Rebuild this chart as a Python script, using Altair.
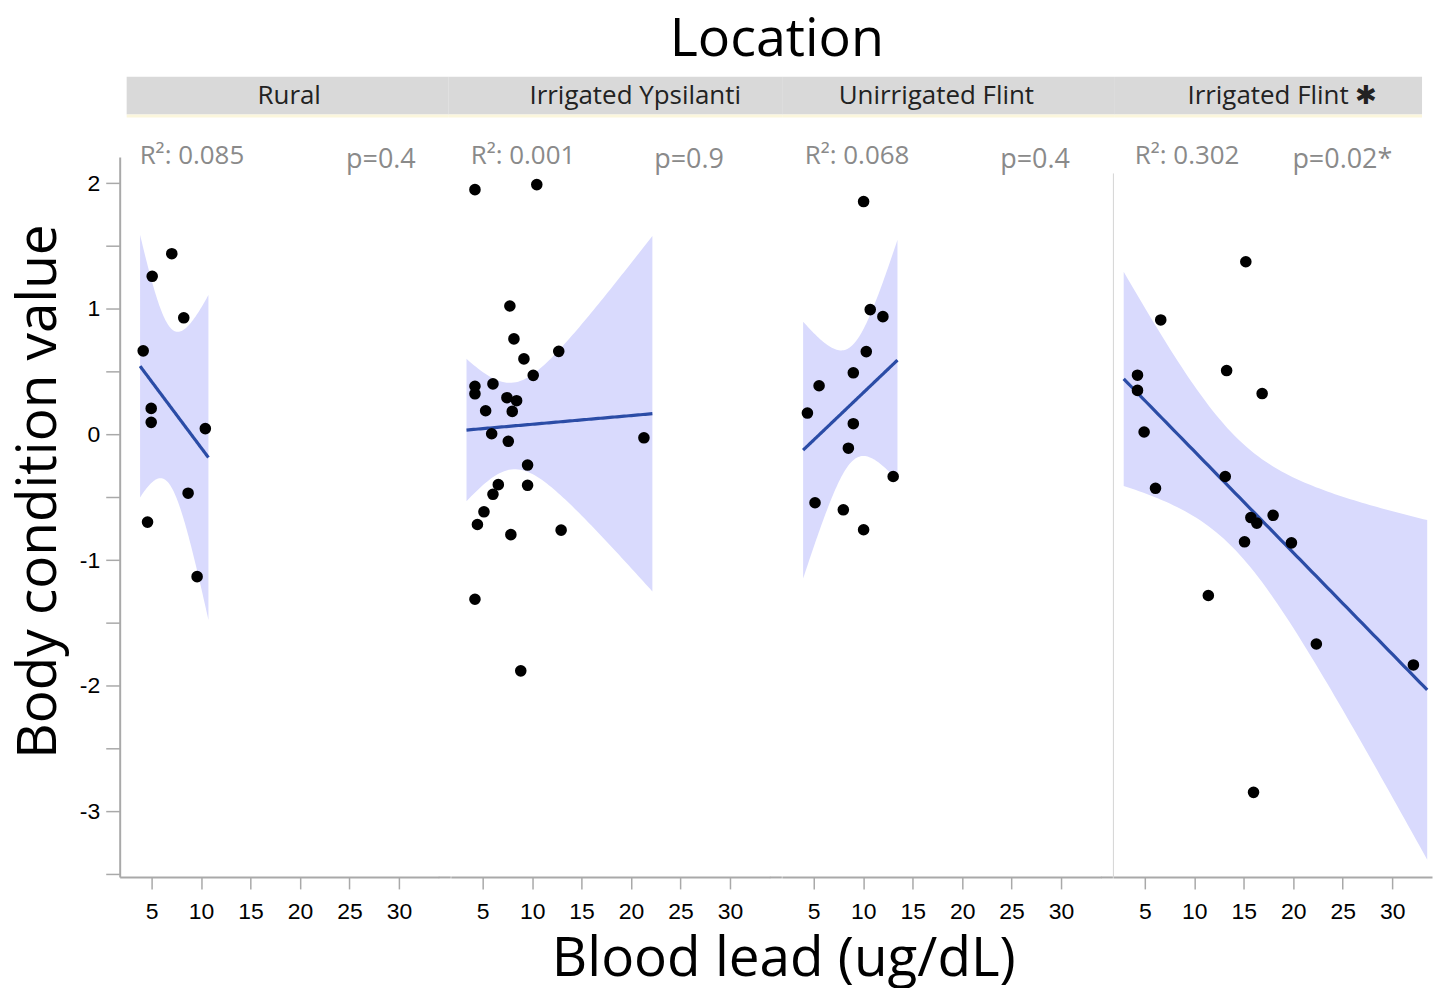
import math
import numpy as np
import pandas as pd
import altair as alt

# ---------------- data ----------------
LOCATIONS = ["Rural", "Irrigated Ypsilanti", "Unirrigated Flint", "Irrigated Flint"]
HEADER_LABELS = ["Rural", "Irrigated Ypsilanti", "Unirrigated Flint", "Irrigated Flint \u2731"]
R2_LABELS = ["R\u00b2: 0.085", "R\u00b2: 0.001", "R\u00b2: 0.068", "R\u00b2: 0.302"]
P_LABELS = ["p=0.4", "p=0.9", "p=0.4", "p=0.02*"]
X_TITLE = "Blood lead (ug/dL)"
Y_TITLE = "Body condition value"
FACET_TITLE = "Location"

RURAL_X = [7.04, 5.06, 8.25, 4.15, 4.96, 4.96, 10.43, 8.69, 4.59, 9.60]
RURAL_Y = [1.44, 1.26, 0.93, 0.667, 0.209, 0.098, 0.048, -0.466, -0.696, -1.13]

IY_X = [4.22, 10.47, 7.75, 8.16, 12.69, 9.17, 10.11, 4.22, 4.22, 6.04, 7.45, 8.43,
        5.30, 7.99, 5.91, 7.59, 21.3, 9.54, 6.58, 9.54, 6.04, 5.13, 4.47, 7.85,
        12.93, 4.22, 8.85]
IY_Y = [1.95, 1.99, 1.024, 0.762, 0.663, 0.603, 0.472, 0.385, 0.325, 0.404, 0.294,
        0.27, 0.19, 0.185, 0.007, -0.053, -0.025, -0.242, -0.398, -0.403, -0.475,
        -0.614, -0.715, -0.796, -0.76, -1.31, -1.88]

UF_X = [10.04, 10.71, 11.99, 10.31, 9.0, 5.54, 4.36, 9.0, 8.5, 13.03, 5.13, 7.99, 10.04]
UF_Y = [1.855, 0.995, 0.939, 0.661, 0.492, 0.389, 0.172, 0.087, -0.108, -0.333,
        -0.542, -0.598, -0.757]

IF_X = [15.21, 6.61, 4.26, 4.26, 13.27, 16.86, 4.93, 6.08, 13.13, 15.72, 16.32,
        17.97, 15.08, 19.82, 11.42, 22.34, 32.15, 15.99]
IF_Y = [1.376, 0.913, 0.473, 0.352, 0.51, 0.327, 0.021, -0.427, -0.333, -0.66,
        -0.704, -0.642, -0.853, -0.861, -1.28, -1.666, -1.833, -2.847]

SERIES_X = [RURAL_X, IY_X, UF_X, IF_X]
SERIES_Y = [RURAL_Y, IY_Y, UF_Y, IF_Y]

X_TICKS = [5, 10, 15, 20, 25, 30]
Y_TICKS = [-3.5, -3, -2.5, -2, -1.5, -1, -0.5, 0, 0.5, 1, 1.5, 2]

# ---------------- layout / style ----------------
W, H = 320, 722
XDOM = [1.774, 34.03]
YDOM = [-3.52, 2.21]
GRAY = "#a9a9a9"
BAND = "#d9dafd"
LINE = "#2b4ca6"
TXT_GRAY = "#8a8a8a"
FONT = "Open Sans"
TICK_FONT = "Liberation Sans"

# per-panel pixel layout for header strip / annotations
STRIP_X0 = [7, -2, 1, 2]
STRIP_X1 = [330, 333, 334, 310]
HEADER_CX = [170, 185, 155, 170]
R2_X = [20, 20, 23, 22]
P_X = [227, 204, 219, 180]


def t_crit(df, q=0.975):
    c = math.gamma((df + 1) / 2) / (math.sqrt(df * math.pi) * math.gamma(df / 2))

    def cdf(t):
        g = np.linspace(0.0, t, 4001)
        return 0.5 + np.trapezoid(c * (1 + g * g / df) ** (-(df + 1) / 2), g)

    lo, hi = 0.0, 30.0
    for _ in range(70):
        mid = (lo + hi) / 2
        if cdf(mid) < q:
            lo = mid
        else:
            hi = mid
    return (lo + hi) / 2


rows = []
for i, loc in enumerate(LOCATIONS):
    xs = np.array(SERIES_X[i], dtype=float)
    ys = np.array(SERIES_Y[i], dtype=float)
    for a, b in zip(xs, ys):
        rows.append({"kind": "point", "location": loc, "x": a, "y": b})
    n = len(xs)
    xbar, ybar = xs.mean(), ys.mean()
    sxx = ((xs - xbar) ** 2).sum()
    slope = ((xs - xbar) * (ys - ybar)).sum() / sxx
    icpt = ybar - slope * xbar
    s = math.sqrt(((ys - (icpt + slope * xs)) ** 2).sum() / (n - 2))
    t = t_crit(n - 2)
    rng = xs.max() - xs.min()
    grid = np.linspace(xs.min() - 0.05 * rng, xs.max() + 0.05 * rng, 80)
    fit = icpt + slope * grid
    se = s * np.sqrt(1.0 / n + (grid - xbar) ** 2 / sxx)
    for g, f, e in zip(grid, fit, se):
        rows.append({"kind": "fit", "location": loc, "x": g, "fit": f,
                     "lo": f - t * e, "hi": f + t * e})
    rows.append({"kind": "label", "location": loc, "header": HEADER_LABELS[i],
                 "r2": R2_LABELS[i], "p": P_LABELS[i],
                 "sx": STRIP_X0[i], "sx2": STRIP_X1[i], "hx": HEADER_CX[i],
                 "rx": R2_X[i], "px": P_X[i], "xt": X_TITLE,
                 "first": 1 if i == 0 else 0,
                 "last": 1 if i == len(LOCATIONS) - 1 else 0})

df = pd.DataFrame(rows)

xscale = alt.Scale(domain=XDOM, nice=False, zero=False)
yscale = alt.Scale(domain=YDOM, nice=False, zero=False)
xaxis = alt.Axis(values=X_TICKS, format="d", grid=False, tickSize=12, tickWidth=1.5,
                 tickColor=GRAY, domainColor=GRAY, domainWidth=2, labelPadding=12,
                 labelFont=TICK_FONT, labelFontSize=23, labelColor="black")
yaxis = alt.Axis(values=Y_TICKS,
                 labelExpr="datum.value % 1 == 0 ? '' + datum.value : ''",
                 grid=False, tickSize=14, tickWidth=1.5, tickColor=GRAY,
                 domainColor=GRAY, domainWidth=2, labelPadding=6,
                 labelFont=TICK_FONT, labelFontSize=23, labelColor="black",
                 titleFont=FONT, titleFontSize=55, titleFontWeight="normal",
                 titleColor="black", titlePadding=12, titleY=335)


def X(field):
    return alt.X(field, scale=xscale, axis=xaxis, title=None)


def Y(field):
    return alt.Y(field, scale=yscale, axis=yaxis, title=Y_TITLE)


base = alt.Chart()
is_fit = "datum.kind == 'fit'"
is_pt = "datum.kind == 'point'"
is_lab = "datum.kind == 'label'"

band = base.mark_area(color=BAND, opacity=1).encode(
    x=X("x:Q"), y=Y("lo:Q"), y2="hi:Q").transform_filter(is_fit)
line = base.mark_line(color=LINE, strokeWidth=3.2).encode(
    x=X("x:Q"), y=Y("fit:Q")).transform_filter(is_fit)
pts = base.mark_circle(size=135, color="black", opacity=1).encode(
    x=X("x:Q"), y=Y("y:Q")).transform_filter(is_pt)

r2 = base.mark_text(align="left", baseline="alphabetic", font=FONT, fontSize=26,
                    color=TXT_GRAY).encode(
    x=alt.X("rx:Q", scale=None), y=alt.value(7.5), text="r2:N").transform_filter(is_lab)
pv = base.mark_text(align="left", baseline="alphabetic", font=FONT, fontSize=27,
                    color=TXT_GRAY).encode(
    x=alt.X("px:Q", scale=None), y=alt.value(11.5), text="p:N").transform_filter(is_lab)

strip = base.mark_rect(color="#d9d9d9").encode(
    x=alt.X("sx:Q", scale=None), x2="sx2:Q",
    y=alt.value(-80.5), y2=alt.value(-42.5)).transform_filter(is_lab)
strip_edge = base.mark_rect(color="#fbf6dc").encode(
    x=alt.X("sx:Q", scale=None), x2="sx2:Q",
    y=alt.value(-42.5), y2=alt.value(-39.5)).transform_filter(is_lab)
htxt = base.mark_text(align="center", baseline="middle", font=FONT, fontSize=26,
                      color="#222222").encode(
    x=alt.X("hx:Q", scale=None), y=alt.value(-61), text="header:N").transform_filter(is_lab)

divider = base.mark_rule(color="#d4d4d4", strokeWidth=1).encode(
    x=alt.value(0.5), y=alt.value(16.5), y2=alt.value(H)).transform_filter(
    is_lab + " && datum.last == 1")
gapfix = base.mark_rule(color=GRAY, strokeWidth=2).encode(
    x=alt.value(W), x2=alt.value(W + 12), y=alt.value(H + 0.5)).transform_filter(
    is_lab + " && datum.last == 0")
xtitle = base.mark_text(align="center", baseline="alphabetic", font=FONT, fontSize=55,
                        color="black").encode(
    x=alt.value(666), y=alt.value(H + 99), text="xt:N").transform_filter(
    is_lab + " && datum.first == 1")

layer = alt.layer(strip, strip_edge, htxt, divider, band, line, pts, r2, pv, gapfix,
                  xtitle).properties(width=W, height=H)

chart = layer.facet(
    column=alt.Column("location:N", sort=LOCATIONS, title=FACET_TITLE,
                      header=alt.Header(labels=False, titleFont=FONT, titleFontSize=54,
                                        titleFontWeight="normal", titleColor="black",
                                        titleBaseline="alphabetic", titlePadding=37)),
    data=df, spacing=12, bounds="flush",
).properties(
    background="white",
    padding={"left": 3, "top": 4, "right": 0, "bottom": 0},
).configure_view(stroke="transparent", strokeWidth=0)

chart.save("out.html", embed_options={"renderer": "svg", "actions": False})
